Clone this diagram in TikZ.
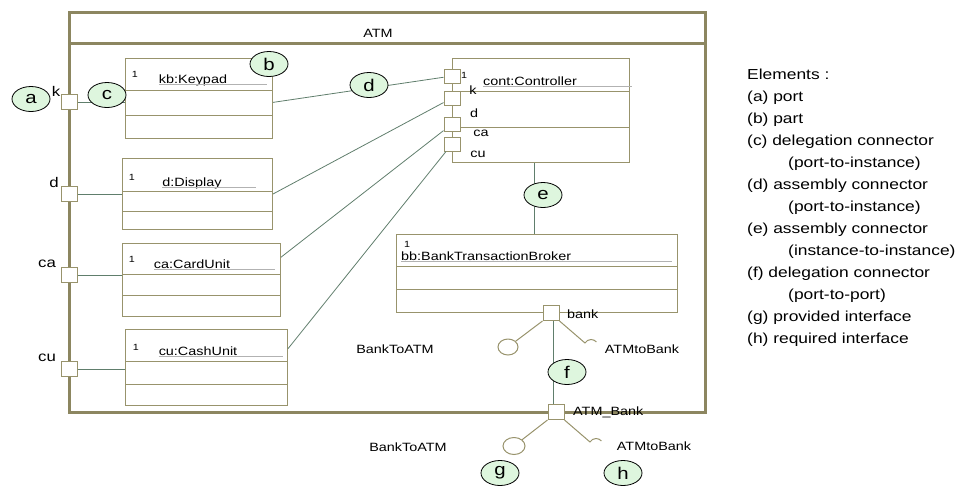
\documentclass[tikz,border=0pt]{standalone}
\usepackage{fontspec}
\setmainfont[FakeStretch=1.2]{Liberation Sans}
\usetikzlibrary{shapes.geometric}
\definecolor{frameolive}{RGB}{140,134,96}
\definecolor{boxolive}{RGB}{152,147,108}
\definecolor{connline}{RGB}{96,126,108}
\definecolor{callfill}{RGB}{222,246,222}
\begin{document}
\begin{tikzpicture}[x=1pt,y=-1pt,
    frame/.style={draw=frameolive,line width=3pt},
    partbox/.style={draw=boxolive,line width=1pt,rectangle,anchor=north west,inner sep=0pt},
    divider/.style={draw=boxolive,line width=1pt},
    portbox/.style={draw=boxolive,fill=white,line width=1pt,minimum width=16pt,minimum height=15pt,inner sep=0pt},
    conn/.style={draw=connline,line width=0.8pt},
    iface/.style={draw=boxolive,line width=1pt},
    lolli/.style={iface,ellipse,fill=white,inner sep=0pt},
    callout/.style={draw=black,fill=callfill,ellipse,line width=0.8pt,minimum width=38pt,minimum height=25pt,inner sep=0pt,font=\fontsize{17}{19}\selectfont},
    lbl/.style={font=\fontsize{12}{14}\selectfont,inner sep=0pt},
    portlbl/.style={font=\fontsize{14}{16}\selectfont,inner sep=0pt},
    mult/.style={font=\fontsize{9}{10}\selectfont,inner sep=0pt},
    uline/.style={draw=gray!60,line width=0.6pt}]
  \useasboundingbox (0,0) rectangle (977,488);

  % ATM frame
  \draw[frame] (69,12) rectangle (705,412);
  \draw[frame] (69,43) -- (705,43);
  \node[lbl] (atm) at (378,33) {ATM};

  % parts
  \node[partbox,minimum width=147pt,minimum height=80pt] (kb) at (125,58) {};
  \draw[divider] (kb.north west) ++(0,32) -- ++(147,0);
  \draw[divider] (kb.north west) ++(0,57) -- ++(147,0);
  \node[mult] (kb1) at (135,74) {1};
  \node[lbl] (kbn) at (193,80) {kb:Keypad};
  \draw[uline] (kbn.base west) ++(0,1.5) -- ++(108,0);

  \node[partbox,minimum width=150pt,minimum height=71pt] (disp) at (122,158) {};
  \draw[divider] (disp.north west) ++(0,33) -- ++(150,0);
  \draw[divider] (disp.north west) ++(0,53) -- ++(150,0);
  \node[mult] (disp1) at (132,177) {1};
  \node[lbl] (dispn) at (192,183) {d:Display};
  \draw[uline] (dispn.base west) ++(0,1.5) -- ++(94,0);

  \node[partbox,minimum width=158pt,minimum height=73pt] (card) at (122,243) {};
  \draw[divider] (card.north west) ++(0,31) -- ++(158,0);
  \draw[divider] (card.north west) ++(0,52) -- ++(158,0);
  \node[mult] (card1) at (132,259) {1};
  \node[lbl] (cardn) at (192,264) {ca:CardUnit};
  \draw[uline] (cardn.base west) ++(0,1.5) -- ++(121,0);

  \node[partbox,minimum width=162pt,minimum height=76pt] (cash) at (125,329) {};
  \draw[divider] (cash.north west) ++(0,32) -- ++(162,0);
  \draw[divider] (cash.north west) ++(0,55) -- ++(162,0);
  \node[mult] (cash1) at (136,347) {1};
  \node[lbl] (cashn) at (198,351) {cu:CashUnit};
  \draw[uline] (cashn.base west) ++(0,1.5) -- ++(124,0);

  \node[partbox,minimum width=177pt,minimum height=104pt] (cont) at (452,58) {};
  \draw[divider] (cont.north west) ++(0,33) -- ++(177,0);
  \draw[divider] (cont.north west) ++(0,69) -- ++(177,0);
  \node[mult] (cont1) at (464,75) {1};
  \node[lbl] (contn) at (530,81) {cont:Controller};
  \draw[uline] (contn.base west) ++(0,1.5) -- ++(149,0);

  \node[partbox,minimum width=281pt,minimum height=78pt] (bb) at (396,234) {};
  \draw[divider] (bb.north west) ++(0,32) -- ++(281,0);
  \draw[divider] (bb.north west) ++(0,55) -- ++(281,0);
  \node[mult] (bb1) at (407,244) {1};
  \node[lbl,anchor=west] (bbn) at (401,256) {bb:BankTransactionBroker};
  \draw[uline] (bbn.base west) ++(0,1.5) -- ++(271,0);

  % ports on the ATM frame
  \node[portbox] (pk) at (69,102) {};
  \node[portbox] (pd) at (69,194) {};
  \node[portbox] (pca) at (69,275) {};
  \node[portbox] (pcu) at (69,369) {};
  \node[portlbl] at (56,91) {k};
  \node[portlbl] at (54,182) {d};
  \node[portlbl] at (47,264) {ca};
  \node[portlbl] at (47,358) {cu};

  % ports on the controller
  \node[portbox,minimum height=14pt] (cp1) at (452,76) {};
  \node[portbox,minimum height=14pt] (cp2) at (452,98) {};
  \node[portbox,minimum height=14pt] (cp3) at (452,124) {};
  \node[portbox,minimum height=14pt] (cp4) at (452,144) {};
  \node[lbl] at (473,90) {k};
  \node[lbl] at (474,113) {d};
  \node[lbl] at (481,133) {ca};
  \node[lbl] at (478,154) {cu};

  % delegation connectors
  \draw[conn] (pk) -- (pk -| kb.west);
  \draw[conn] (pd) -- (pd -| disp.west);
  \draw[conn] (pca) -- (pca -| card.west);
  \draw[conn] (pcu) -- (pcu -| cash.west);

  % assembly connectors
  \draw[conn] (kb.-3) -- (cp1);
  \draw[conn] (disp.east) -- (cp2);
  \draw[conn] (card.16) -- (cp3);
  \draw[conn] (cash.13) -- (cp4);
  \draw[conn] ([xshift=-7pt]cont.south) -- ([xshift=-7pt]cont.south |- bb.north);

  % bank ports and interfaces
  \node[portbox] (bank) at (551,313) {};
  \node[lbl,anchor=west] at (567,314) {bank};
  \node[portbox] (atmb) at (556,412) {};
  \node[lbl,anchor=west] at (573,412) {ATM\_Bank};
  \draw[conn] ([xshift=2pt]bank.south) -- ([xshift=2pt]bank.south |- atmb.north);

  \node[lolli,minimum width=20pt,minimum height=16pt] (prov1) at (508,347) {};
  \coordinate (req1) at (585,343);
  \draw[iface] (bank.south west) -- (prov1);
  \draw[iface] (bank.south east) -- (req1) arc[start angle=210,end angle=320,radius=7];
  \node[lbl] at (395,349) {BankToATM};
  \node[lbl] at (642,349) {ATMtoBank};

  \node[lolli,minimum width=22pt,minimum height=17pt] (prov2) at (514,446) {};
  \coordinate (req2) at (590,442);
  \draw[iface] (atmb.south west) -- (prov2);
  \draw[iface] (atmb.south east) -- (req2) arc[start angle=210,end angle=320,radius=7];
  \node[lbl] at (408,447) {BankToATM};
  \node[lbl] at (654,446) {ATMtoBank};

  % callouts
  \node[callout] (ca) at (31,99) {a};
  \node[callout] (cb) at (269,64) {b};
  \node[callout] (cc) at (107,95) {c};
  \node[callout] (cd) at (369,85) {d};
  \node[callout] (ce) at (543,195) {e};
  \node[callout] (cf) at (567,372) {f};
  \node[callout] (cg) at (500,473) {g};
  \node[callout] (ch) at (623,473) {h};

  % legend
  \node[anchor=north west,inner sep=0pt,align=left,font=\fontsize{14.5}{22}\selectfont] (elements) at (747,69) {Elements :\\
    (a) port\\
    (b) part\\
    (c) delegation connector\\
    \hspace*{41pt}(port-to-instance)\\
    (d) assembly connector\\
    \hspace*{41pt}(port-to-instance)\\
    (e) assembly connector\\
    \hspace*{41pt}(instance-to-instance)\\
    (f) delegation connector\\
    \hspace*{41pt}(port-to-port)\\
    (g) provided interface\\
    (h) required interface};
\end{tikzpicture}
\end{document}
